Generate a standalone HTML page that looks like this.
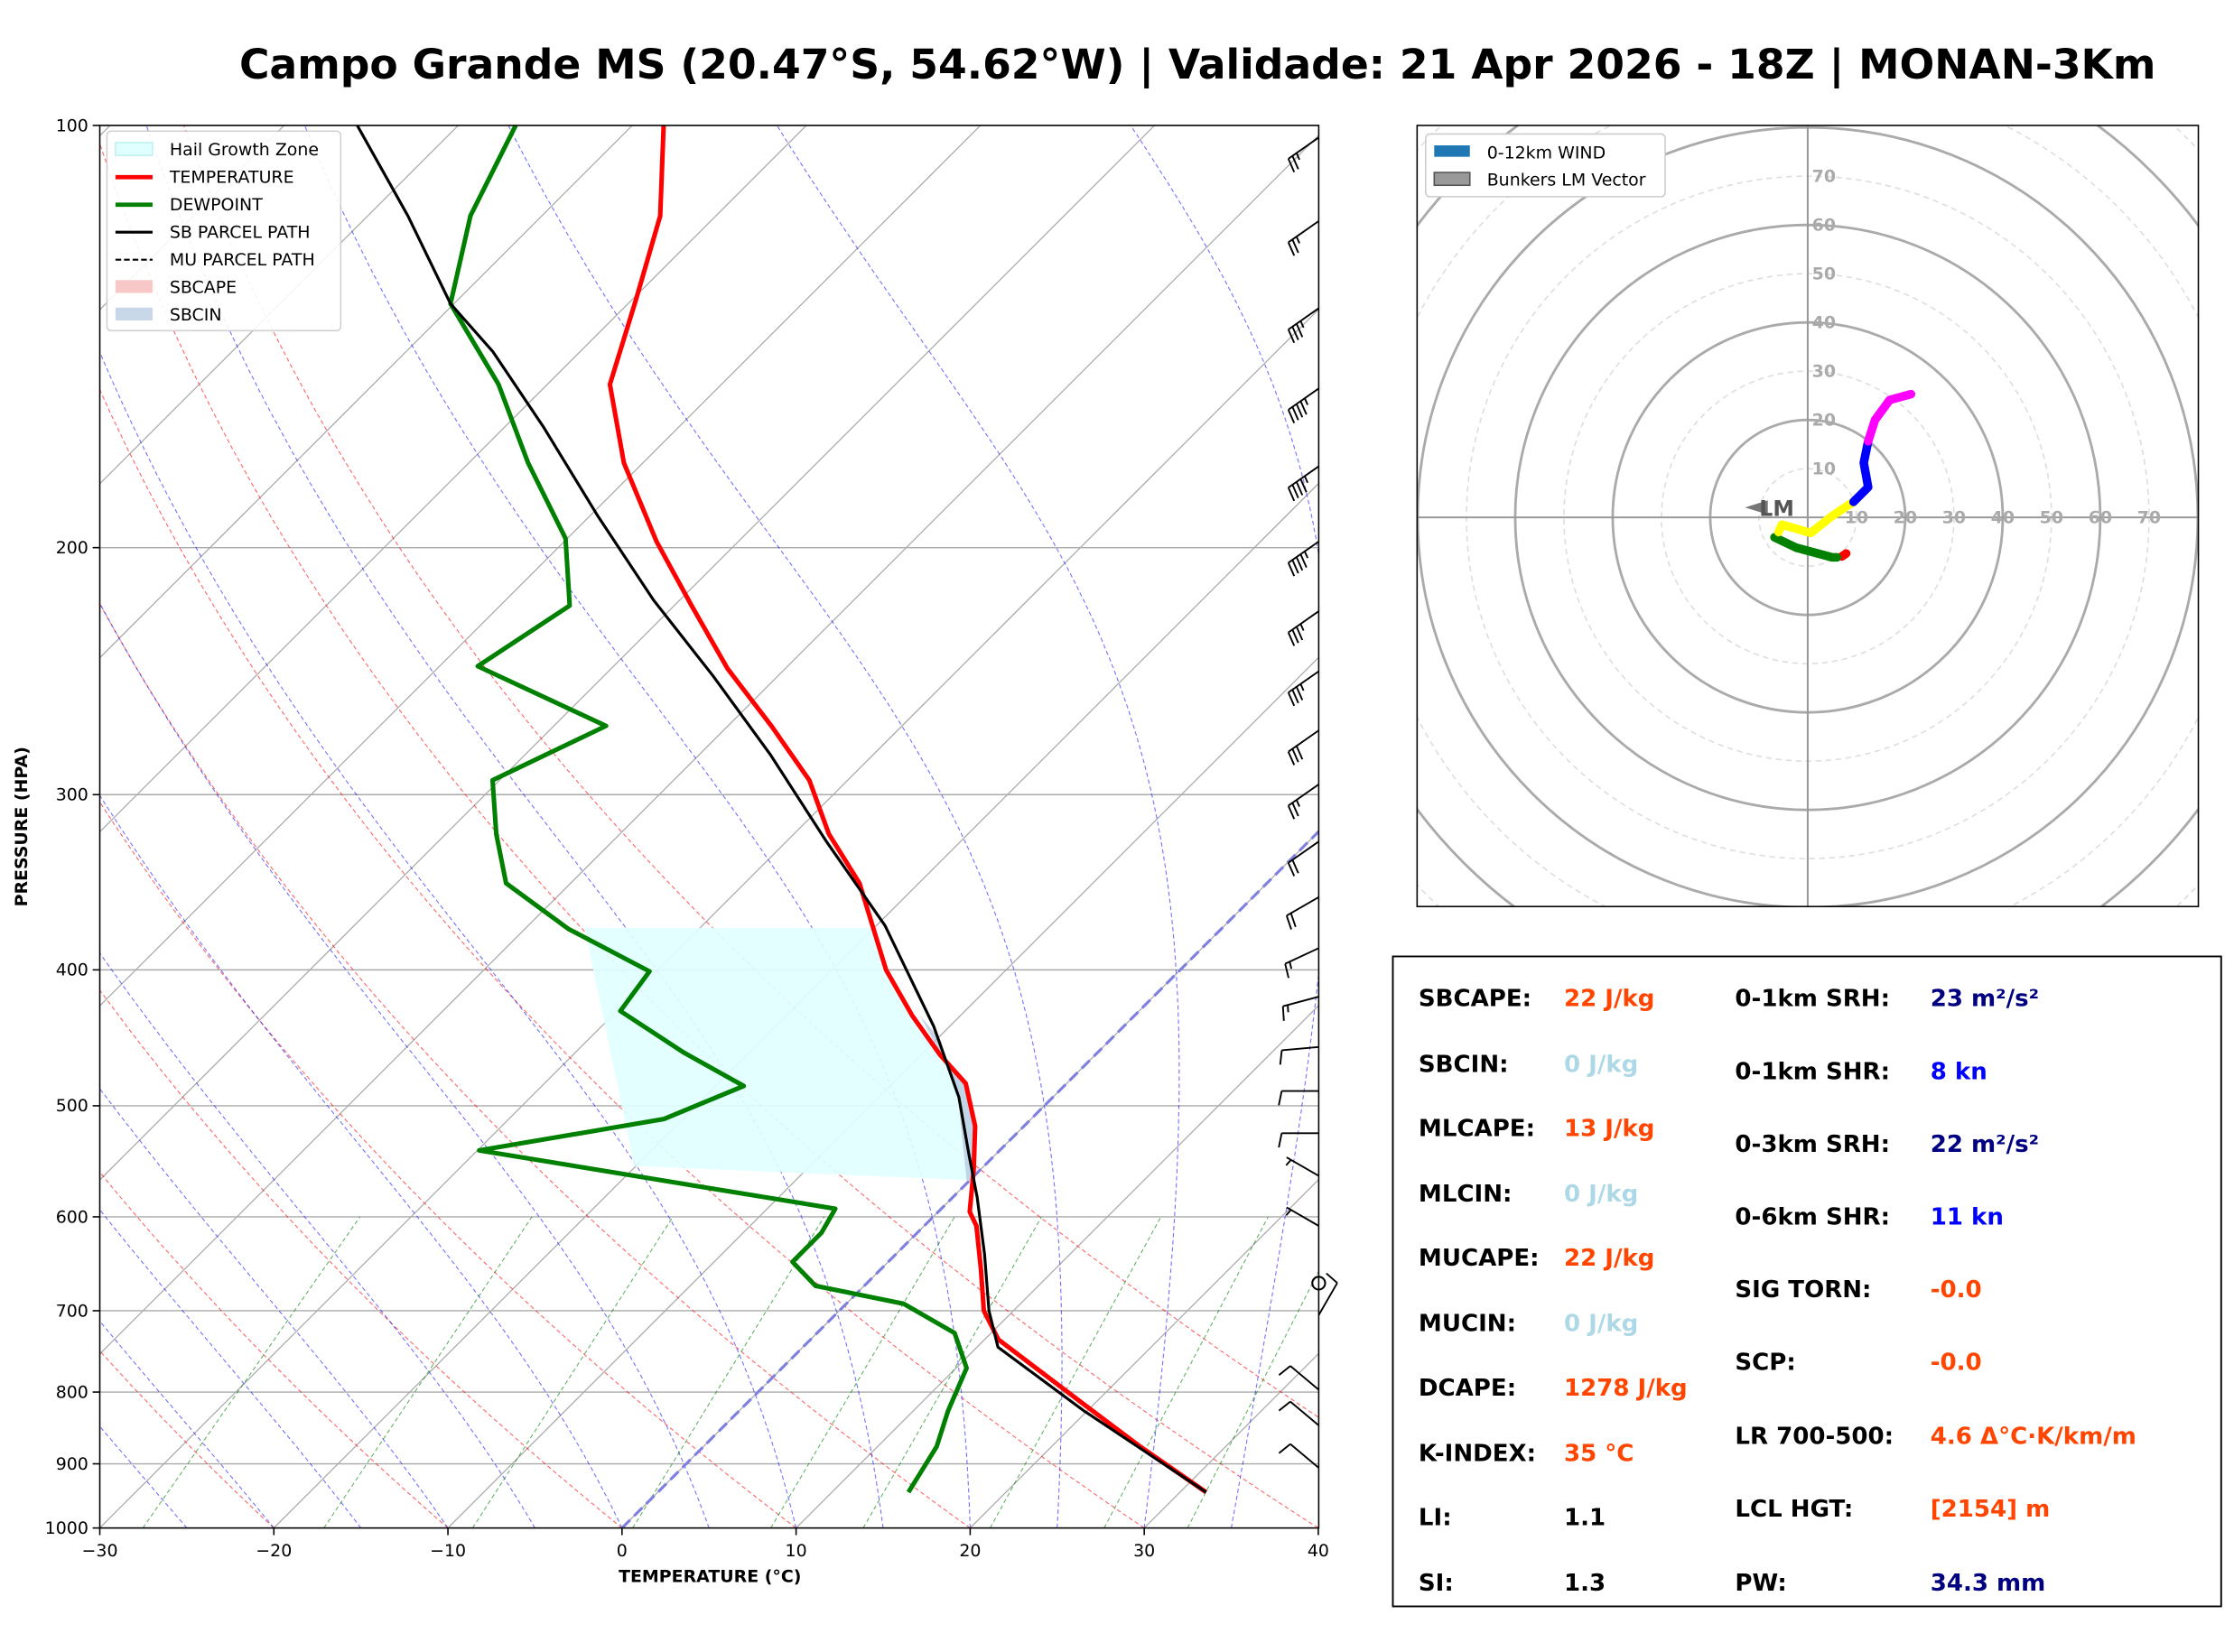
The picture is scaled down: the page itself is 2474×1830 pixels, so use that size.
<!DOCTYPE html>
<html><head><meta charset="utf-8"><style>
html,body{margin:0;padding:0;background:#fff;}
svg{display:block;font-family:"DejaVu Sans","Liberation Sans",sans-serif;}
</style></head><body>
<svg id="root" width="2474" height="1830" viewBox="0 0 1567 1159" preserveAspectRatio="none" xmlns="http://www.w3.org/2000/svg">
<rect width="1567" height="1159" fill="#fff"/>
<text x="840" y="55" font-size="28.9" font-weight="bold" text-anchor="middle">Campo Grande MS (20.47°S, 54.62°W) | Validade: 21 Apr 2026 - 18Z | MONAN-3Km</text>
<defs><clipPath id="cp"><rect x="70" y="88" width="855" height="984"/></clipPath>
<clipPath id="hc"><rect x="994" y="88" width="548" height="548"/></clipPath></defs>
<g id="skew"></g>
<g id="hodo"></g>
<g font-weight="bold" font-size="16.5">
<rect x="977" y="671" width="581" height="456" fill="#fff" stroke="#000" stroke-width="1.2"/>
<g fill="#000">
<text x="995" y="706">SBCAPE:</text><text x="995" y="752">SBCIN:</text><text x="995" y="797">MLCAPE:</text><text x="995" y="843">MLCIN:</text><text x="995" y="888">MUCAPE:</text><text x="995" y="934">MUCIN:</text><text x="995" y="979">DCAPE:</text><text x="995" y="1025">K-INDEX:</text><text x="995" y="1070">LI:</text><text x="995" y="1116">SI:</text>
<text x="1217" y="706">0-1km SRH:</text><text x="1217" y="757">0-1km SHR:</text><text x="1217" y="808">0-3km SRH:</text><text x="1217" y="859">0-6km SHR:</text><text x="1217" y="910">SIG TORN:</text><text x="1217" y="961">SCP:</text><text x="1217" y="1013">LR 700-500:</text><text x="1217" y="1064">LCL HGT:</text><text x="1217" y="1116">PW:</text>
</g>
<text x="1097" y="706" fill="#ff4500">22 J/kg</text><text x="1097" y="752" fill="#add8e6">0 J/kg</text><text x="1097" y="797" fill="#ff4500">13 J/kg</text><text x="1097" y="843" fill="#add8e6">0 J/kg</text><text x="1097" y="888" fill="#ff4500">22 J/kg</text><text x="1097" y="934" fill="#add8e6">0 J/kg</text><text x="1097" y="979" fill="#ff4500">1278 J/kg</text><text x="1097" y="1025" fill="#ff4500">35 °C</text><text x="1097" y="1070" fill="#000">1.1</text><text x="1097" y="1116" fill="#000">1.3</text>
<text x="1354" y="706" fill="#000080">23 m²/s²</text><text x="1354" y="757" fill="#0000ff">8 kn</text><text x="1354" y="808" fill="#000080">22 m²/s²</text><text x="1354" y="859" fill="#0000ff">11 kn</text><text x="1354" y="910" fill="#ff4500">-0.0</text><text x="1354" y="961" fill="#ff4500">-0.0</text><text x="1354" y="1013" fill="#ff4500">4.6 Δ°C·K/km/m</text><text x="1354" y="1064" fill="#ff4500">[2154] m</text><text x="1354" y="1116" fill="#000080">34.3 mm</text>
</g>
<script>
// ---------- data ----------
const tempP=[943,875,816,734,700,653,609,595,555,517,482,460,431,400,347,320,293,268,244,220,198,174,153,133,116,100];
const tempT=[31.5,25.1,19.4,10.8,8.3,5.7,3.0,1.8,-0.4,-2.8,-5.8,-8.9,-12.8,-16.9,-23.4,-28.0,-32.2,-37.5,-43.3,-49.0,-54.7,-61.1,-66.4,-69.8,-73.2,-78.2];
const dewP=[943,875,825,769,726,692,672,646,616,592,538,511,484,458,428,401,374,347,320,293,268,243,220,197,174,153,134,116,100];
const dewT=[14.4,13.4,12.0,10.6,7.9,3.3,-2.8,-5.5,-5.5,-6.1,-29.9,-21.1,-18.4,-23.8,-29.8,-30.4,-37.5,-43.7,-47.1,-50.4,-47.0,-57.8,-56.0,-60.1,-66.6,-72.8,-80.2,-84.1,-86.7];
const parP=[943,825,743,700,638,581,542,493,439,372,324,281,247,218,190,164,145,134,116,100];
const parT=[31.5,19.8,11.2,8.6,5.1,1.4,-1.5,-5.4,-10.9,-19.5,-27.7,-35.9,-43.7,-51.5,-59.5,-67.8,-75.0,-80.2,-87.7,-95.8];
const barbP=[102,117,135,154,175,198,222,245,270,295,324,355,386,418,454,488,523,561,609,705,797,845,906];
const barbDir=[235,235,235,235,235,235,235,235,235,235,235,240,245,255,265,270,270,300,300,30,310,310,310];
const barbSpd=[25,25,35,45,45,45,35,35,30,25,20,20,15,15,10,10,10,5,5,10,10,10,10];
const hodoSeg=[
 {c:'#ff0000',u:[7.9,7.0],v:[-7.4,-8.0]},
 {c:'#008000',u:[6,5,-2.4,-6.8],v:[-8.2,-8.2,-6.2,-4.1]},
 {c:'#ffff00',u:[-6.0,-5.3,0.6,5,9.4],v:[-3.0,-1.5,-3.2,0.3,3.2]},
 {c:'#0000ff',u:[9.4,12.4,11.5,12.4],v:[3.2,6.2,11.2,15.6]},
 {c:'#ff00ff',u:[12.4,13.8,16.8,21.2],v:[15.6,20,24.1,25.3]}];
const xTicks=[-30,-20,-10,0,10,20,30,40];
const pTicks=[100,200,300,400,500,600,700,800,900,1000];
const hodoRings=[10,20,30,40,50,60,70,80,90,100,110];

// ---------- helpers ----------
const NS='http://www.w3.org/2000/svg';
function mk(tag,attrs,parent){const e=document.createElementNS(NS,tag);for(const k in attrs)e.setAttribute(k,attrs[k]);parent.appendChild(e);return e;}
const yOf=p=>1072-Math.log10(1000/p)*984;
const xOf=(T,p)=>70+(T+30)*12.21+(1072-yOf(p));
const sk=document.getElementById('skew');
const clipG=mk('g',{'clip-path':'url(#cp)'},sk);
function pathFrom(Ts,Ps){return Ts.map((t,i)=>(i?'L':'M')+xOf(t,Ps[i]).toFixed(1)+' '+yOf(Ps[i]).toFixed(1)).join(' ');}

pTicks.forEach(p=>{const l=mk('line',{x1:70,x2:925,y1:yOf(p),y2:yOf(p),stroke:'#aaa','stroke-width':0.9},clipG);
});
for(let T=-130;T<=40;T+=10){const l=mk('path',{d:pathFrom([T,T],[1000,100]),stroke:'#aaa','stroke-width':0.8,fill:'none'},clipG);
}
const Ps=[];for(let p=1000;p>=100;p-=10)Ps.push(p);
for(let t0=-30;t0<=50;t0+=10){const th=t0+273.15;const Ts=Ps.map(p=>th*Math.pow(p/1000,0.2857)-273.15);
const l=mk('path',{d:pathFrom(Ts,Ps),stroke:'#ff0000','stroke-width':0.7,'stroke-dasharray':'3,2',fill:'none',opacity:0.6},clipG);
}
function es(Tc){return 6.112*Math.exp(17.67*Tc/(Tc+243.5));}
for(let t0=-30;t0<=45;t0+=5){let T=t0+273.15;const Ts=[],Pp=[];
for(let p=1000;p>=100;p-=2){Ts.push(T-273.15);Pp.push(p);
const e=es(T-273.15);const rs=0.622*e/(p-e);
const dTdp=(1/p)*(287.04*T+2.501e6*rs)/(1005.7+2.501e6*2.501e6*rs*0.622/(287.04*T*T));T-=dTdp*2;}
const l=mk('path',{d:pathFrom(Ts,Pp),stroke:'#0000ff','stroke-width':0.7,'stroke-dasharray':'3,2',fill:'none',opacity:0.55},clipG);
}
[0.0004,0.001,0.002,0.004,0.007,0.01,0.016,0.024,0.032].forEach(w=>{const Pp=[1000,600];
const Ts=Pp.map(p=>{const e=w*p/(0.622+w);const a=Math.log(e/6.112);return 243.5*a/(17.67-a);});
const l=mk('path',{d:pathFrom(Ts,Pp),stroke:'#008000','stroke-width':0.7,'stroke-dasharray':'3,2',fill:'none',opacity:0.6},clipG);
});
const z=mk('path',{d:pathFrom([0,0],[1000,100]),stroke:'#8080e0','stroke-width':2,'stroke-dasharray':'8,4',fill:'none'},clipG);

const hgz=mk('polygon',{points:'410,651 612,651 622,680 640,712 660,740 677,760 683,790 682,828 445,818',fill:'#e0ffff',opacity:0.9},clipG);

const cin=mk('polygon',{points:'645,712 660,740 677,760 683,790 682,828 678,828 672,770 660,730',fill:'#b0c4de',opacity:0.7},clipG);

const tl=mk('path',{d:pathFrom(tempT,tempP),stroke:'#ff0000','stroke-width':3.2,fill:'none','stroke-linejoin':'round'},clipG);

const dl=mk('path',{d:pathFrom(dewT,dewP),stroke:'#008000','stroke-width':3.2,fill:'none','stroke-linejoin':'round'},clipG);

const pl=mk('path',{d:pathFrom(parT,parP),stroke:'#000','stroke-width':2,fill:'none'},clipG);

mk('rect',{x:70,y:88,width:855,height:984,fill:'none',stroke:'#000','stroke-width':1},sk);
xTicks.forEach(t=>{const x=70+(t+30)*12.21;mk('line',{x1:x,x2:x,y1:1072,y2:1077,stroke:'#000'},sk);
const tx=mk('text',{x:x,y:1092,'font-size':12,'text-anchor':'middle'},sk);tx.textContent=(t<0?'−':'')+Math.abs(t);
});
pTicks.forEach(p=>{const y=yOf(p);mk('line',{x1:65,x2:70,y1:y,y2:y,stroke:'#000'},sk);
const tx=mk('text',{x:62,y:y+4,'font-size':12,'text-anchor':'end'},sk);tx.textContent=p;
});
let t=mk('text',{x:498,y:1110,'font-size':12,'font-weight':'bold','text-anchor':'middle'},sk);t.textContent='TEMPERATURE (°C)';

t=mk('text',{x:19,y:580,'font-size':12,'font-weight':'bold','text-anchor':'middle',transform:'rotate(-90 19 580)'},sk);t.textContent='PRESSURE (HPA)';

barbP.forEach((p,i)=>{const x0=925,y0=yOf(p);const g=mk('g',{stroke:'#000','stroke-width':1.2,fill:'none'},sk);

const a=barbDir[i]*Math.PI/180;const sx=Math.sin(a),sy=-Math.cos(a);const L=26;
const x1=x0+sx*L,y1=y0+sy*L;mk('line',{x1:x0,y1:y0,x2:x1,y2:y1},g);
const px=sy,py=-sx;let s=barbSpd[i],k=0;
while(s>=10){const bx=x1-sx*k*3.5,by=y1-sy*k*3.5;mk('line',{x1:bx,y1:by,x2:bx+px*10+sx*2,y2:by+py*10+sy*2},g);s-=10;k++;}
if(s>=5){if(k==0)k=1;const bx=x1-sx*k*3.5,by=y1-sy*k*3.5;mk('line',{x1:bx,y1:by,x2:bx+px*5+sx*1,y2:by+py*5+sy*1},g);}
});
const calm=mk('circle',{cx:925,cy:yOf(669),r:4.5,fill:'none',stroke:'#000','stroke-width':1.3},sk);

const lg=mk('g',{'font-size':12},sk);
mk('rect',{x:75,y:92,width:164,height:140,fill:'#fff',stroke:'#ccc',rx:3,opacity:0.9},lg);
const ents=[['Hail Growth Zone','hz'],['TEMPERATURE','#ff0000'],['DEWPOINT','#008000'],['SB PARCEL PATH','#000'],['MU PARCEL PATH','dash'],['SBCAPE','cape'],['SBCIN','cin']];
ents.forEach((e,i)=>{const y=105+i*19.3;
if(e[1]=='hz')mk('rect',{x:81,y:y-5,width:26,height:9,fill:'#e0ffff',stroke:'#c0f0f0'},lg);
else if(e[1]=='cape')mk('rect',{x:81,y:y-5,width:26,height:9,fill:'#f8c8c8'},lg);
else if(e[1]=='cin')mk('rect',{x:81,y:y-5,width:26,height:9,fill:'#c8d8e8'},lg);
else if(e[1]=='dash')mk('line',{x1:81,x2:107,y1:y,y2:y,stroke:'#000','stroke-width':1.3,'stroke-dasharray':'4,2'},lg);
else mk('line',{x1:81,x2:107,y1:y,y2:y,stroke:e[1],'stroke-width':e[1]=='#000'?2:3},lg);
const tx=mk('text',{x:119,y:y+4},lg);tx.textContent=e[0];
});

// ---------- hodograph ----------
const hd=document.getElementById('hodo');const cx=1268,cy=363,sc=3.42;
const hg=mk('g',{'clip-path':'url(#hc)'},hd);
hodoRings.forEach(r=>{const c=mk('circle',{cx:cx,cy:cy,r:r*sc,fill:'none',stroke:r%20==0?'#aaa':'#ddd','stroke-width':r%20==0?1.8:1,'stroke-dasharray':r%20==0?'none':'4,3'},hg);
});
mk('line',{x1:994,x2:1542,y1:cy,y2:cy,stroke:'#999','stroke-width':1.3},hg);
mk('line',{x1:cx,x2:cx,y1:88,y2:636,stroke:'#999','stroke-width':1.3},hg);
for(let r=10;r<=70;r+=10){let tx=mk('text',{x:cx+r*sc,y:cy+4,'font-size':12,'font-weight':'bold',fill:'#aaa','text-anchor':'middle'},hd);tx.textContent=r;

tx=mk('text',{x:cx+3,y:cy-r*sc+4,'font-size':12,'font-weight':'bold',fill:'#aaa'},hd);tx.textContent=r;
}
hodoSeg.forEach(s=>{const d=s.u.map((u,i)=>(i?'L':'M')+(cx+u*sc).toFixed(1)+' '+(cy-s.v[i]*sc).toFixed(1)).join(' ');
const l=mk('path',{d:d,stroke:s.c,'stroke-width':6,fill:'none','stroke-linecap':'round','stroke-linejoin':'round'},hg);
});
const lm=mk('polygon',{points:'1224,356 1240,351 1240,361',fill:'#777'},hd);
t=mk('text',{x:1234,y:362,'font-size':15,'font-weight':'bold',fill:'#555'},hd);t.textContent='LM';
mk('rect',{x:994,y:88,width:548,height:548,fill:'none',stroke:'#000','stroke-width':1},hd);
const hl=mk('g',{'font-size':12},hd);
mk('rect',{x:1000,y:94,width:168,height:44,fill:'#fff',stroke:'#ccc',rx:3},hl);
mk('rect',{x:1006,y:102,width:25,height:8,fill:'#1f77b4'},hl);
mk('rect',{x:1006,y:121,width:25,height:9,fill:'#999',stroke:'#555'},hl);
t=mk('text',{x:1043,y:111},hl);t.textContent='0-12km WIND';
t=mk('text',{x:1043,y:130},hl);t.textContent='Bunkers LM Vector';
</script>
</svg>
</body></html>
